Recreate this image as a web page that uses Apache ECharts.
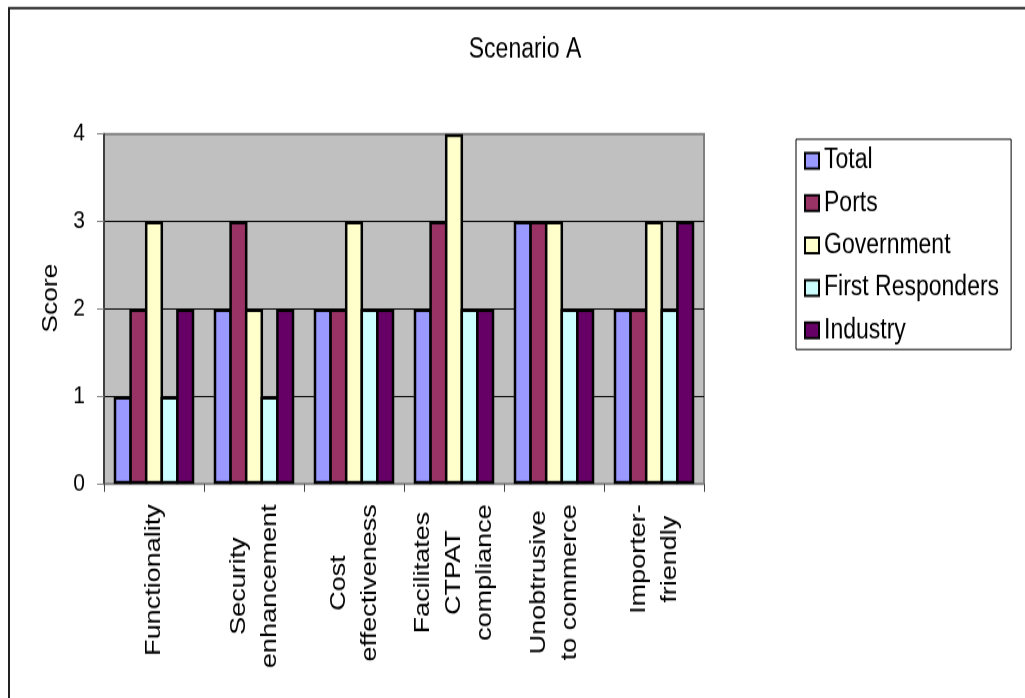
<!DOCTYPE html>
<html>
<head>
<meta charset="utf-8">
<script src="https://cdn.jsdelivr.net/npm/echarts@6/dist/echarts.min.js"></script>
<style>
  html, body { margin: 0; padding: 0; background: #fff; overflow: hidden; }
  #wrap { width: 1025px; height: 698px; overflow: hidden; }
  /* the chart is laid out on a shorter canvas and stretched vertically */
  #chart { width: 1025px; height: 582px; transform: scaleY(1.2); transform-origin: 0 0; }
</style>
</head>
<body>
<div id="wrap"><div id="chart"></div></div>
<script>
const categories = [
  'Functionality',
  'Security\nenhancement',
  'Cost\neffectiveness',
  'Facilitates\nCTPAT\ncompliance',
  'Unobtrusive\nto commerce',
  'Importer-\nfriendly'
];
const seriesNames = ['Total', 'Ports', 'Government', 'First Responders', 'Industry'];
const total           = [1, 2, 2, 2, 3, 2];
const ports           = [2, 3, 2, 3, 3, 2];
const government      = [3, 2, 3, 4, 3, 3];
const firstResponders = [1, 1, 2, 2, 2, 2];
const industry        = [2, 2, 2, 2, 2, 3];
const seriesColors = ['#9999FF', '#993366', '#FFFFCC', '#CCFFFF', '#660066'];
const titleText = 'Scenario A';
const yAxisName = 'Score';

const FONT = "'Liberation Sans', Arial, sans-serif";
const values = [total, ports, government, firstResponders, industry];

// neighbouring bars share one outline: each bar is widened by the border
// width and pulled back over its neighbour by the same amount
const BAR_STEP = 15.6;
const BAR_BORDER = 2.5;
const BAR_WIDTH = BAR_STEP + BAR_BORDER;
const BAR_GAP = (-100 * BAR_BORDER / BAR_WIDTH).toFixed(2) + '%';

const chart = echarts.init(document.getElementById('chart'), null, { renderer: 'canvas' });

const option = {
  animation: false,
  backgroundColor: '#ffffff',
  textStyle: { fontFamily: FONT, color: '#000' },
  title: {
    text: titleText,
    left: 520,
    top: 24,
    textAlign: 'center',
    textStyle: { fontFamily: FONT, fontSize: 23, fontWeight: 'normal', color: '#000', lineHeight: 26 }
  },
  graphic: [{
    type: 'rect',
    silent: true,
    shape: { x: 9, y: 6.7, width: 1200, height: 900 },
    style: { fill: 'none', stroke: '#222', lineWidth: 2 }
  }],
  legend: {
    orient: 'vertical',
    left: 796,
    top: 116,
    data: seriesNames,
    icon: 'rect',
    itemWidth: 14,
    itemHeight: 13,
    itemGap: 9.3,
    padding: [5, 12, 3, 8],
    borderColor: '#000',
    borderWidth: 1,
    backgroundColor: '#fff',
    selectedMode: false,
    textStyle: { fontFamily: FONT, fontSize: 23, color: '#000', lineHeight: 26 }
  },
  grid: {
    left: 104,
    top: 111.7,
    width: 600,
    height: 291.6,
    show: true,
    backgroundColor: '#C0C0C0',
    borderColor: '#808080',
    borderWidth: 2,
    containLabel: false
  },
  xAxis: {
    type: 'category',
    data: categories,
    axisLine: { show: true, lineStyle: { color: '#808080', width: 1 } },
    axisTick: { show: true, inside: false, length: 6.5, lineStyle: { color: '#404040', width: 1 } },
    axisLabel: {
      interval: 0,
      rotate: 90,
      margin: 17,
      formatter: function (v) {
        return v.split('\n').map(function (l) { return '{c|' + l + '}'; }).join('\n');
      },
      rich: {
        c: { align: 'center', fontFamily: FONT, fontSize: 22.5, lineHeight: 31, color: '#000' }
      }
    },
    splitLine: { show: false }
  },
  yAxis: {
    type: 'value',
    min: 0,
    max: 4,
    interval: 1,
    name: yAxisName,
    nameLocation: 'middle',
    nameGap: 41,
    nameRotate: 90,
    nameTextStyle: { fontFamily: FONT, fontSize: 22, color: '#000', padding: [0, 0, 0, 18] },
    axisLine: { show: true, lineStyle: { color: '#404040', width: 2 } },
    axisTick: { show: true, inside: false, length: 7, lineStyle: { color: '#808080', width: 1 } },
    axisLabel: { margin: 19, fontFamily: FONT, fontSize: 21, color: '#000' },
    splitLine: { show: true, lineStyle: { color: ['#808080', '#000', '#000', '#000', '#808080'], width: 1 } }
  },
  series: seriesNames.map(function (name, i) {
    return {
      name: name,
      type: 'bar',
      data: values[i],
      barWidth: BAR_WIDTH,
      barGap: BAR_GAP,
      itemStyle: { color: seriesColors[i], borderColor: '#000', borderWidth: BAR_BORDER }
    };
  })
};

chart.setOption(option);
</script>
</body>
</html>
